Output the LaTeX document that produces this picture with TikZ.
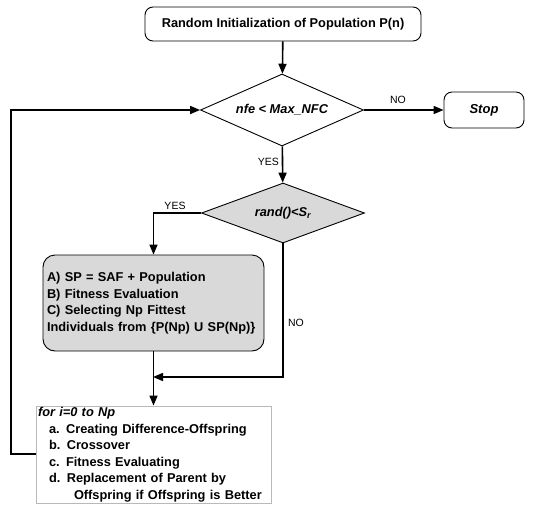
\documentclass[tikz,border=0pt]{standalone}
\usepackage{fontspec}
\setmainfont{Liberation Sans}
\usetikzlibrary{shapes.geometric,arrows.meta}

\newcommand{\bodysize}{\fontsize{12.8}{16.5}\selectfont}
\tikzset{
  >={Triangle[length=10pt,width=8pt]},
  flow/.style={line width=1.6pt},
  termbox/.style={draw,line width=0.9pt,rounded corners=8pt,inner sep=0pt,font=\bodysize\bfseries},
  decide/.style={diamond,aspect=2.6,draw,line width=0.9pt,inner sep=0pt,font=\bodysize\bfseries\itshape},
  stepbox/.style={draw,line width=0.9pt,inner sep=0pt,align=left,font=\bodysize\bfseries},
  lbl/.style={font=\fontsize{10.5}{12}\selectfont,inner sep=0pt}
}

\begin{document}
\begin{tikzpicture}[x=1pt,y=-1pt]
\useasboundingbox (0,0) rectangle (535,506);
\node[termbox,minimum width=276pt,minimum height=34pt] (init) at (283,24) {Random Initialization of Population P(n)};
\node[decide,minimum width=163pt,minimum height=72pt] (chk) at (282,110) {nfe < Max\_NFC};
\node[termbox,minimum width=80pt,minimum height=36pt,font=\fontsize{13}{15}\selectfont\bfseries\itshape] (stop) at (484,110) {Stop};
\node[decide,fill=gray!30,minimum width=163pt,minimum height=60pt] (rnd) at (283,213) {rand()<S\textsubscript{r}};
\node[stepbox,fill=gray!30,rounded corners=12pt,minimum width=221pt,minimum height=96pt,text width=213pt] (saf) at (153.5,303)
  {A) SP = SAF + Population\\B) Fitness Evaluation\\C) Selecting Np Fittest\\Individuals from \{P(Np) U SP(Np)\}};
\node[stepbox,draw=gray!55,line width=0.8pt,minimum width=235pt,minimum height=97pt,text width=231pt] (loop) at (153.5,454.5)
  {\textit{for i=0 to Np}\\\hspace*{11pt}a. Creating Difference-Offspring\\\hspace*{11pt}b. Crossover\\\hspace*{11pt}c. Fitness Evaluating\\\hspace*{11pt}d. Replacement of Parent by\\\hspace*{36pt}Offspring if Offspring is Better};
\coordinate (join) at (153,377);
\coordinate (back) at (11,454);
\draw[flow,->] (init) -- (chk);
\draw[flow,->] (chk) -- (stop);
\draw[flow,->] (chk) -- (rnd);
\draw[flow,->] (rnd.west) -| (saf.north);
\draw[flow,->] (rnd.south) |- (join);
\draw[flow,->] (saf.south) -- (loop.north);
\draw[flow,->] (loop.west |- back) -- (back) |- (chk.west);
\node[lbl] (no1) at (398,100) {NO};
\node[lbl,anchor=east] (yes1) at (279,162) {YES};
\node[lbl] (yes2) at (175,206) {YES};
\node[lbl] (no2) at (296,323) {NO};
\end{tikzpicture}
\end{document}
